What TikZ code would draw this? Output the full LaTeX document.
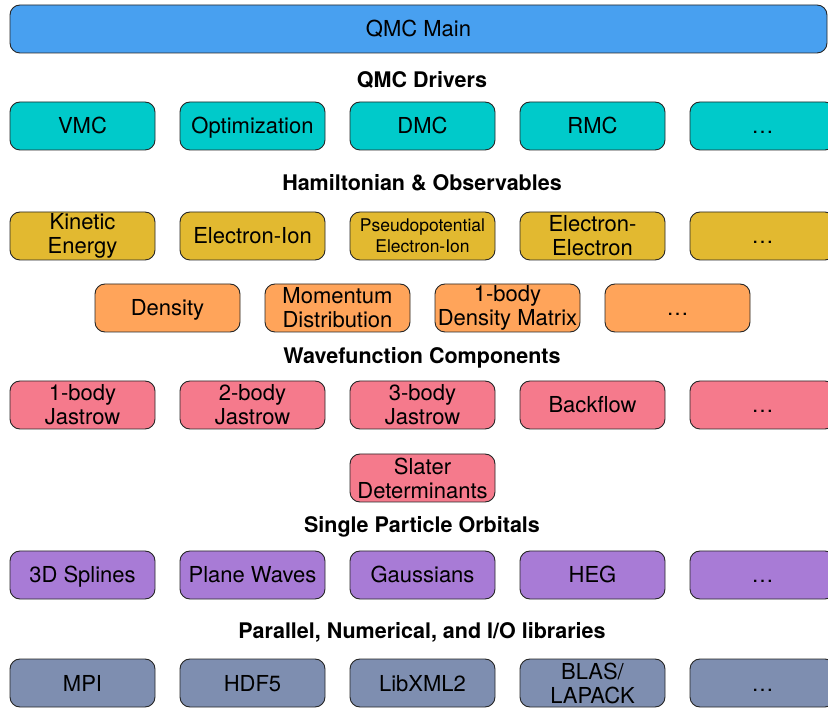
\documentclass[tikz,border=0pt]{standalone}
\usepackage{fontspec}
\setmainfont{TeX Gyre Heros}
\usepackage{xcolor}

\definecolor{mainblue}{RGB}{72,160,240}
\definecolor{driverteal}{RGB}{0,202,202}
\definecolor{hamgold}{RGB}{226,185,48}
\definecolor{obsorange}{RGB}{255,164,90}
\definecolor{wfpink}{RGB}{245,122,140}
\definecolor{spopurple}{RGB}{168,123,214}
\definecolor{libslate}{RGB}{126,142,176}

\begin{document}
\begin{tikzpicture}[x=1pt, y=-1pt]
    \tikzstyle{blk} = [draw=black!85, line width=0.9pt, rounded corners=10pt,
        minimum width=145pt, minimum height=48pt, inner sep=0pt, align=center,
        font=\fontsize{22}{24}\selectfont]
    \tikzstyle{one} = [blk, text height=18pt, text depth=2pt]
    \tikzstyle{hdr} = [font=\bfseries\fontsize{21.5}{24}\selectfont]
    \tikzstyle{small} = [font=\fontsize{17.5}{21}\selectfont]
    \clip (0, 0) rectangle (828, 708);

    \node[one, fill=mainblue, minimum width=817pt] (main) at (418.5, 29) {QMC Main};

    % drivers
    \node[hdr] (drvhdr) at (422, 80) {QMC Drivers};
    \node[one, fill=driverteal] (vmc) at (82.5, 126) {VMC};
    \node[one, fill=driverteal] (opt) at (252.5, 126) {Optimization};
    \node[one, fill=driverteal] (dmc) at (422.5, 126) {DMC};
    \node[one, fill=driverteal] (rmc) at (592.5, 126) {RMC};
    \node[one, fill=driverteal] (drvmore) at (762.5, 126) {\dots};

    % hamiltonian and observables
    \node[hdr] (hamhdr) at (422, 183) {Hamiltonian \& Observables};
    \node[blk, fill=hamgold] (kin) at (82.5, 236) {Kinetic\\Energy};
    \node[one, fill=hamgold] (ei) at (252.5, 236) {Electron-Ion};
    \node[blk, fill=hamgold, small] (ppei) at (422.5, 236) {Pseudopotential\\Electron-Ion};
    \node[blk, fill=hamgold] (ee) at (592.5, 236) {Electron-\\Electron};
    \node[one, fill=hamgold] (hammore) at (762.5, 236) {\dots};

    \node[one, fill=obsorange] (dens) at (167.5, 308) {Density};
    \node[blk, fill=obsorange] (mom) at (337.5, 308) {Momentum\\Distribution};
    \node[blk, fill=obsorange] (obdm) at (507.5, 308) {1-body\\Density Matrix};
    \node[one, fill=obsorange] (obsmore) at (677.5, 308) {\dots};

    % wavefunction
    \node[hdr] (wfhdr) at (422, 358) {Wavefunction Components};
    \node[blk, fill=wfpink] (j1) at (82.5, 405) {1-body\\Jastrow};
    \node[blk, fill=wfpink] (j2) at (252.5, 405) {2-body\\Jastrow};
    \node[blk, fill=wfpink] (j3) at (422.5, 405) {3-body\\Jastrow};
    \node[one, fill=wfpink] (bf) at (592.5, 405) {Backflow};
    \node[one, fill=wfpink] (wfmore) at (762.5, 405) {\dots};
    \node[blk, fill=wfpink] (slater) at (422.5, 478) {Slater\\Determinants};

    % orbitals
    \node[hdr] (spohdr) at (422, 527) {Single Particle Orbitals};
    \node[one, fill=spopurple] (spl) at (82.5, 575) {3D Splines};
    \node[one, fill=spopurple] (pw) at (252.5, 575) {Plane Waves};
    \node[one, fill=spopurple] (gau) at (422.5, 575) {Gaussians};
    \node[one, fill=spopurple] (heg) at (592.5, 575) {HEG};
    \node[one, fill=spopurple] (spomore) at (762.5, 575) {\dots};

    % libraries
    \node[hdr] (libhdr) at (422, 632) {Parallel, Numerical, and I/O libraries};
    \node[one, fill=libslate] (mpi) at (82.5, 683) {MPI};
    \node[one, fill=libslate] (hdf) at (252.5, 683) {HDF5};
    \node[one, fill=libslate] (xml) at (422.5, 683) {LibXML2};
    \node[blk, fill=libslate] (blas) at (592.5, 683) {BLAS/\\LAPACK};
    \node[one, fill=libslate] (libmore) at (762.5, 683) {\dots};
\end{tikzpicture}
\end{document}
